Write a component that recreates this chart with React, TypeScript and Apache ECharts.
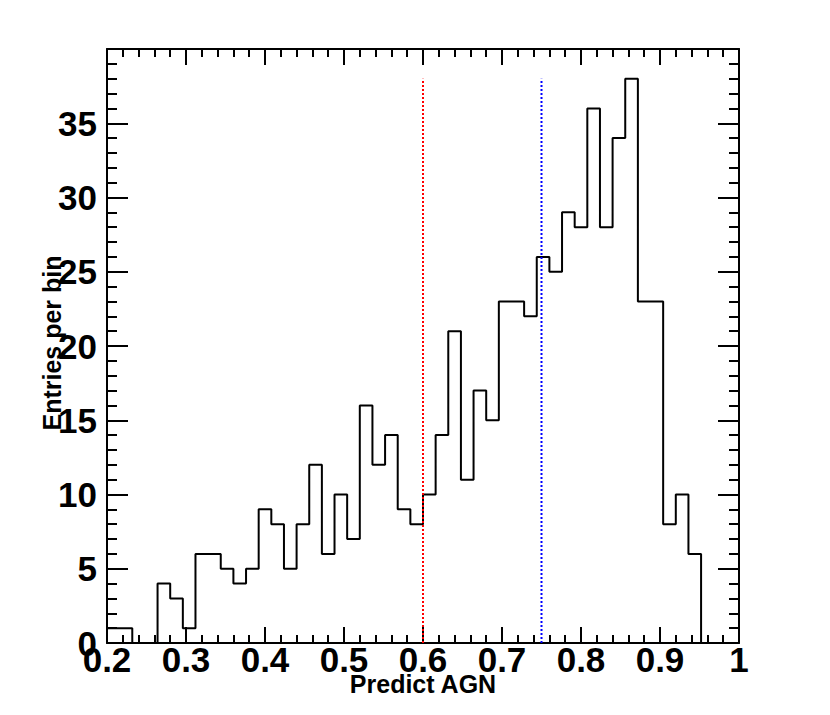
import React, { useEffect, useRef } from "react";
import * as echarts from "echarts";

// Histogram definition (50 bins of width 0.016 from 0.2 to 1.0)
const XMIN = 0.2;
const XMAX = 1.0;
const BIN_WIDTH = 0.016;
const counts = [
  1, 1, 0, 0, 4, 3, 1, 6, 6, 5,
  4, 5, 9, 8, 5, 8, 12, 6, 10, 7,
  16, 12, 14, 9, 8, 10, 14, 21, 11, 17,
  15, 23, 23, 22, 26, 25, 29, 28, 36, 28,
  34, 38, 23, 23, 8, 10, 6, 0, 0, 0,
];

// Cut lines
const cutValues = [0.6, 0.75];
const cutColors = ["#ff0000", "#0000ff"];

// Axis texts
const xTitle = "Predict AGN";
const yTitle = "Entries per bin";

const LABEL_FONT = '"Liberation Sans Narrow", "Liberation Sans", Arial, sans-serif';
const TITLE_FONT = '"Liberation Sans", Arial, sans-serif';

export default function App() {
  const ref = useRef<HTMLDivElement>(null);

  useEffect(() => {
    if (!ref.current) return;
    const chart = echarts.init(ref.current, null, { renderer: "svg" });

    // step outline of histogram built from bins
    const outline: number[][] = [[XMIN, 0]];
    counts.forEach((c, i) => {
      const lo = XMIN + i * BIN_WIDTH;
      const hi = XMIN + (i + 1) * BIN_WIDTH;
      outline.push([lo, c]);
      outline.push([hi, c]);
    });
    outline.push([XMAX, 0]);

    const maxCount = Math.max(...counts);

    const tickStyle = { color: "#000", width: 2 };
    const xAxisBase = {
      type: "value" as const,
      min: XMIN,
      max: XMAX,
      interval: 0.1,
      axisLine: { show: true, onZero: false, lineStyle: tickStyle },
      axisTick: { show: true, inside: true, length: 16, lineStyle: tickStyle },
      minorTick: { show: true, splitNumber: 5, length: 8, lineStyle: tickStyle },
      splitLine: { show: false },
      minorSplitLine: { show: false },
    };
    const yAxisBase = {
      type: "value" as const,
      min: 0,
      max: 40,
      interval: 5,
      axisLine: { show: true, onZero: false, lineStyle: tickStyle },
      axisTick: { show: true, inside: true, length: 21, lineStyle: tickStyle },
      minorTick: { show: true, splitNumber: 5, length: 10, lineStyle: tickStyle },
      splitLine: { show: false },
      minorSplitLine: { show: false },
    };
    const labelStyle = {
      color: "#000",
      fontFamily: LABEL_FONT,
      fontWeight: "bold" as const,
      fontSize: 35,
      lineHeight: 26,
    };

    chart.setOption({
      animation: false,
      grid: { left: 107, right: 91, top: 49, bottom: 72, containLabel: false },
      xAxis: [
        {
          ...xAxisBase,
          position: "bottom",
          axisLabel: {
            ...labelStyle,
            margin: 3,
            formatter: (v: number) => String(+v.toFixed(2)),
          },
        },
        { ...xAxisBase, position: "top", axisLabel: { show: false } },
      ],
      yAxis: [
        {
          ...yAxisBase,
          position: "left",
          axisLabel: { ...labelStyle, margin: 10, showMaxLabel: false },
        },
        { ...yAxisBase, position: "right", axisLabel: { show: false } },
      ],
      graphic: [
        {
          type: "text",
          x: 423,
          y: 693,
          style: {
            text: xTitle,
            fill: "#000",
            font: `bold 25px ${TITLE_FONT}`,
            lineHeight: 19,
            align: "center",
            verticalAlign: "bottom",
          },
        },
        {
          type: "text",
          x: 52,
          y: 343,
          rotation: Math.PI / 2,
          style: {
            text: yTitle,
            fill: "#000",
            font: `bold 25px ${TITLE_FONT}`,
            align: "center",
            verticalAlign: "middle",
          },
        },
      ],
      series: [
        {
          type: "line",
          data: outline,
          showSymbol: false,
          symbol: "none",
          clip: false,
          lineStyle: { color: "#000", width: 2 },
          z: 2,
        },
        ...cutValues.map((v, i) => ({
          type: "line",
          data: [
            [v, 0],
            [v, maxCount],
          ],
          showSymbol: false,
          symbol: "none",
          clip: false,
          lineStyle: { color: cutColors[i], width: 2, type: [2, 2] },
          z: 3,
        })),
      ],
    });

    return () => chart.dispose();
  }, []);

  return (
    <div
      ref={ref}
      style={{ position: "absolute", left: 0, top: 0, width: 830, height: 715 }}
    />
  );
}
